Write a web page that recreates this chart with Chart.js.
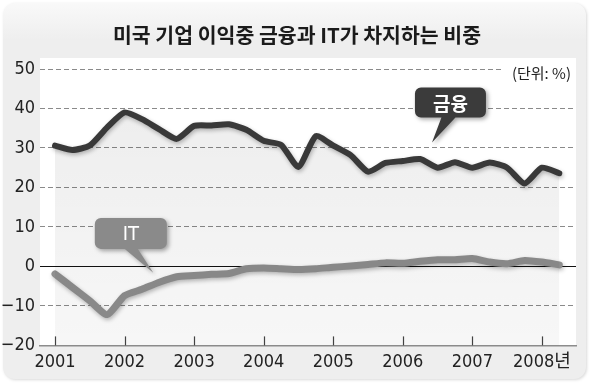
<!DOCTYPE html>
<html><head><meta charset="utf-8">
<script src="https://cdn.jsdelivr.net/npm/chart.js@4/dist/chart.umd.min.js"></script>
<style>html,body{margin:0;padding:0;background:#fff;}#wrap{width:590px;height:384px;position:relative;}canvas{display:block;}</style>
</head><body><div id="wrap"><canvas id="c" width="590" height="384"></canvas></div>
<script>
const quarters = ['2001Q1','2001Q2','2001Q3','2001Q4','2002Q1','2002Q2','2002Q3','2002Q4',
  '2003Q1','2003Q2','2003Q3','2003Q4','2004Q1','2004Q2','2004Q3','2004Q4',
  '2005Q1','2005Q2','2005Q3','2005Q4','2006Q1','2006Q2','2006Q3','2006Q4',
  '2007Q1','2007Q2','2007Q3','2007Q4','2008Q1','2008Q2'];
const finance = [30.6, 29.5, 30.6, 35.2, 39.0, 37.3, 34.7, 32.3, 35.6, 35.7, 36.0, 34.6, 31.8, 30.8, 25.2,
  33.0, 30.6, 28.2, 24.0, 26.2, 26.7, 27.2, 25.0, 26.4, 25.0, 26.3, 25.0, 21.0, 25.0, 23.6];
const itShare = [-1.9, -5.3, -8.7, -12.2, -7.4, -5.8, -4.0, -2.6, -2.3, -2.0, -1.8, -0.6, -0.4, -0.6, -0.8,
  -0.6, -0.2, 0.1, 0.5, 0.9, 0.8, 1.3, 1.7, 1.7, 2.0, 1.1, 0.7, 1.5, 1.1, 0.4];
const yearTicks = [0, 4, 8, 12, 16, 20, 24, 28];
const yearLabels = ['2001','2002','2003','2004','2005','2006','2007','2008년'];
const yTicks = [-20, -10, 0, 10, 20, 30, 40, 50];
const seriesNames = ['금융', 'IT'];
const titleText = '미국 기업 이익중 금융과 IT가 차지하는 비중';
const unitText = '(단위: %)';

const NARROW = "'Liberation Sans Narrow', 'DejaVu Sans Condensed', 'Noto Sans CJK KR', sans-serif";
const KR = "'Noto Sans CJK KR', 'Noto Sans', sans-serif";

const callouts = [
  {text: seriesNames[0], box: [22.74, 41.5], tip: [21.68, 31.4], w: 71, h: 30, base: [-9, 5],
   fill: '#3b3b3b', font: 'bold 19px ' + KR},
  {text: seriesNames[1], box: [4.36, 8.37], tip: [5.65, -1.6], w: 72, h: 31, base: [-6, 7],
   fill: '#8a8a8a', font: '20px ' + NARROW}
];

function roundRect(ctx, x, y, w, h, r) {
  ctx.beginPath();
  ctx.moveTo(x + r, y);
  ctx.arcTo(x + w, y, x + w, y + h, r);
  ctx.arcTo(x + w, y + h, x, y + h, r);
  ctx.arcTo(x, y + h, x, y, r);
  ctx.arcTo(x, y, x + w, y, r);
  ctx.closePath();
}

const deco = {
  id: 'deco',
  beforeDraw(chart) {
    const ctx = chart.ctx, a = chart.chartArea;
    ctx.save();
    ctx.fillStyle = '#ffffff';
    ctx.fillRect(0, 0, chart.width, chart.height);
    ctx.shadowColor = 'rgba(0,0,0,0.15)';
    ctx.shadowBlur = 3;
    ctx.shadowOffsetX = 1; ctx.shadowOffsetY = 1;
    const g = ctx.createLinearGradient(0, 3, 0, 40);
    g.addColorStop(0, '#f9f9f9');
    g.addColorStop(1, '#eeeeee');
    ctx.fillStyle = g;
    roundRect(ctx, 3, 3, chart.width - 7, chart.height - 8, 12);
    ctx.fill();
    ctx.shadowColor = 'transparent';
    ctx.fillStyle = '#ffffff';
    ctx.fillRect(a.left, a.top - 11, a.right - a.left, a.bottom - a.top + 11);
    ctx.restore();
  },
  beforeDatasetsDraw(chart) {
    const ctx = chart.ctx, a = chart.chartArea, x = chart.scales.x, y = chart.scales.y;
    ctx.save();
    ctx.strokeStyle = '#111';
    ctx.lineWidth = 1.2;
    const y0 = Math.round(y.getPixelForValue(0)) + 0.5;
    ctx.beginPath(); ctx.moveTo(a.left, y0); ctx.lineTo(a.right, y0); ctx.stroke();
    ctx.strokeStyle = '#444';
    ctx.lineWidth = 1.2;
    yearTicks.forEach(v => {
      const px = Math.round(x.getPixelForValue(v)) + 0.5;
      ctx.beginPath(); ctx.moveTo(px, a.bottom - 9); ctx.lineTo(px, a.bottom); ctx.stroke();
    });
    ctx.restore();
  },
  beforeDatasetDraw(chart) {
    const ctx = chart.ctx;
    ctx.save();
    ctx.shadowColor = 'rgba(0,0,0,0.28)';
    ctx.shadowBlur = 4;
    ctx.shadowOffsetX = 1; ctx.shadowOffsetY = 2;
  },
  afterDatasetDraw(chart) { chart.ctx.restore(); },
  afterDatasetsDraw(chart) {
    const ctx = chart.ctx, a = chart.chartArea, xs = chart.scales.x, ys = chart.scales.y;
    ctx.save();
    ctx.font = '15px ' + KR;
    const uw = ctx.measureText(unitText).width;
    const ux = a.right - 5, uy = ys.getPixelForValue(50) + 4;
    ctx.fillStyle = '#ffffff';
    ctx.fillRect(ux - uw - 8, uy - 10, uw + 10, 18);
    ctx.fillStyle = '#222';
    ctx.textAlign = 'right'; ctx.textBaseline = 'middle';
    ctx.fillText(unitText, ux, uy);
    ctx.restore();
    callouts.forEach(c => {
      const cx = xs.getPixelForValue(c.box[0]), cy = ys.getPixelForValue(c.box[1]);
      const tx = xs.getPixelForValue(c.tip[0]), ty = ys.getPixelForValue(c.tip[1]);
      const x0 = cx - c.w / 2, y0 = cy - c.h / 2, x1 = cx + c.w / 2, y1 = cy + c.h / 2, r = 6;
      ctx.save();
      ctx.beginPath();
      ctx.moveTo(x0 + r, y0);
      ctx.arcTo(x1, y0, x1, y1, r);
      ctx.arcTo(x1, y1, x0, y1, r);
      ctx.lineTo(cx + c.base[1], y1);
      ctx.lineTo(tx, ty);
      ctx.lineTo(cx + c.base[0], y1);
      ctx.arcTo(x0, y1, x0, y0, r);
      ctx.arcTo(x0, y0, x1, y0, r);
      ctx.closePath();
      ctx.shadowColor = 'rgba(0,0,0,0.35)';
      ctx.shadowBlur = 4;
      ctx.shadowOffsetX = 2; ctx.shadowOffsetY = 2;
      ctx.fillStyle = c.fill;
      ctx.fill();
      ctx.shadowColor = 'transparent';
      ctx.fillStyle = '#ffffff';
      ctx.font = c.font;
      ctx.textAlign = 'center'; ctx.textBaseline = 'middle';
      ctx.fillText(c.text, cx, cy + 1);
      ctx.restore();
    });
  },
  afterDraw(chart) {
    const ctx = chart.ctx;
    ctx.save();
    ctx.font = 'bold 20.5px ' + KR;
    ctx.fillStyle = '#1b1b1b';
    ctx.textAlign = 'center'; ctx.textBaseline = 'middle';
    ctx.fillText(titleText, 297, 35);
    ctx.restore();
  }
};

new Chart(document.getElementById('c'), {
  type: 'line',
  data: {
    labels: quarters,
    datasets: [
      {label: seriesNames[0], data: finance.map((v, i) => ({x: i, y: v})),
       borderColor: '#393939', borderWidth: 6, pointRadius: 0, tension: 0.2,
       borderJoinStyle: 'round', borderCapStyle: 'round',
       fill: 'start',
       backgroundColor: (ctx) => {
         const a = ctx.chart.chartArea;
         if (!a) return 'rgba(0,0,0,0.06)';
         const g = ctx.chart.ctx.createLinearGradient(0, a.top, 0, a.bottom);
         g.addColorStop(0, 'rgba(0,0,0,0.075)');
         g.addColorStop(1, 'rgba(0,0,0,0.03)');
         return g;
       }},
      {label: seriesNames[1], data: itShare.map((v, i) => ({x: i, y: v})),
       borderColor: '#8e8e8e', borderWidth: 7, pointRadius: 0, tension: 0.2,
       borderJoinStyle: 'round', borderCapStyle: 'round', fill: false}
    ]
  },
  options: {
    responsive: false,
    devicePixelRatio: 1,
    animation: false,
    layout: {padding: {top: 69, right: 14, bottom: 5, left: 0}},
    plugins: {legend: {display: false}, tooltip: {enabled: false}, title: {display: false}},
    scales: {
      x: {
        type: 'linear', min: -0.863, max: 29.96,
        afterBuildTicks: s => { s.ticks = yearTicks.map(v => ({value: v})); },
        ticks: {
          autoSkip: false, maxRotation: 0, padding: 6, color: '#222',
          font: {family: NARROW, size: 18},
          callback: v => yearLabels[yearTicks.indexOf(v)]
        },
        grid: {display: false, drawTicks: false},
        border: {display: true, color: '#8c8c8c', width: 1.5}
      },
      y: {
        min: -20, max: 50,
        afterBuildTicks: s => { s.ticks = yTicks.map(v => ({value: v})); },
        afterFit: s => { s.width = 40; },
        ticks: {
          padding: 5, color: '#222',
          font: {family: NARROW, size: 18},
          callback: v => (v < 0 ? '\u2212' + Math.abs(v) : String(v))
        },
        grid: {
          drawTicks: false, lineWidth: 1,
          color: c => (c.tick && (c.tick.value === 0 || c.tick.value === -20)) ? 'rgba(0,0,0,0)' : '#8a8a8a'
        },
        border: {display: false, dash: [5, 3]}
      }
    }
  },
  plugins: [deco]
});
</script>
</body></html>
